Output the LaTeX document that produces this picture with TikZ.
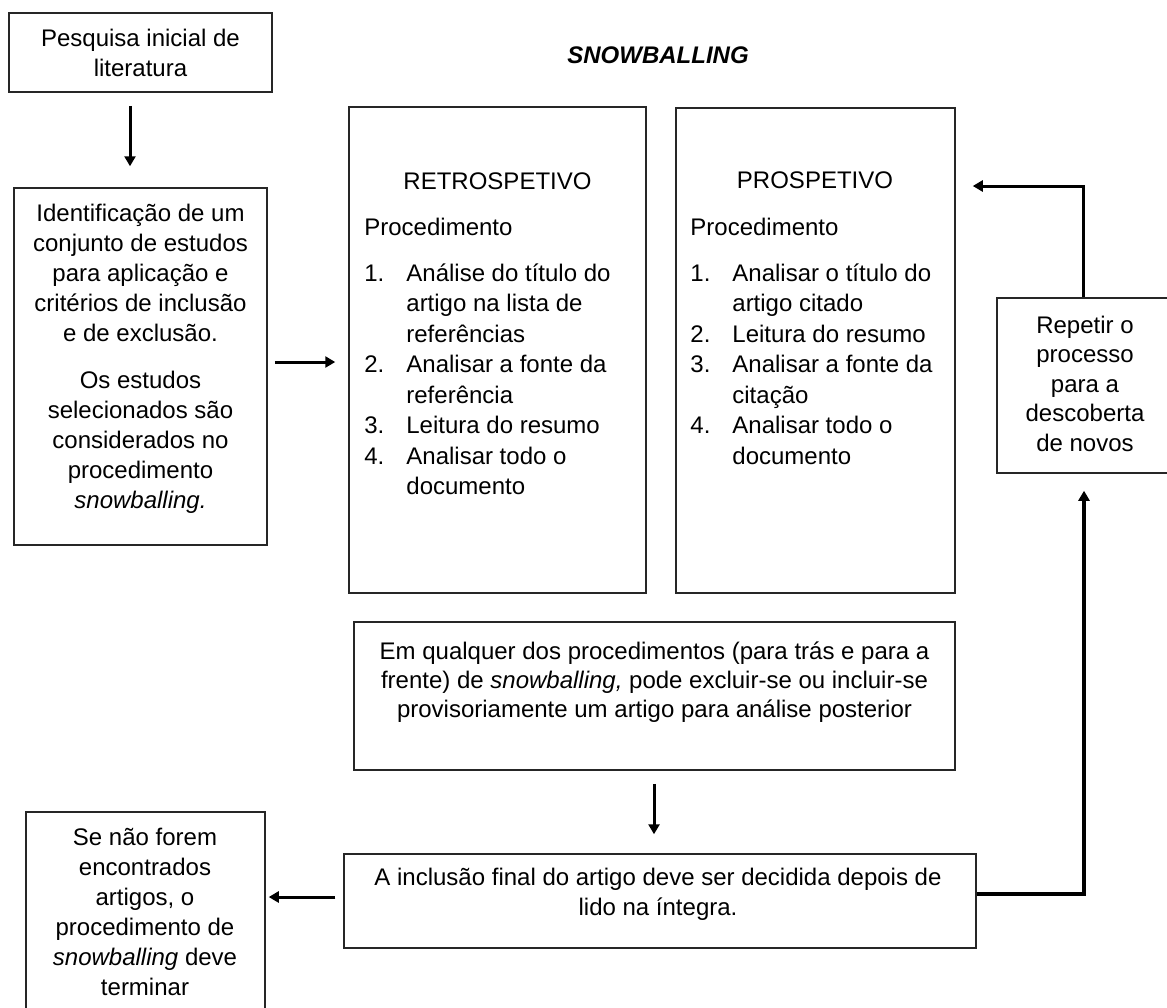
\documentclass[tikz,border=0pt]{standalone}
\usepackage{fontspec}
\setmainfont{Liberation Sans}
\usetikzlibrary{arrows.meta,fit,calc}
\newcommand{\listnum}[1]{\makebox[21pt][l]{#1}}
\newcommand{\listind}{\hspace*{21pt}}
\begin{document}
\begin{tikzpicture}[x=0.5pt,y=-0.5pt,
  boxst/.style={draw=black!85, line width=0.75pt, inner sep=0pt, rectangle},
  txt/.style={inner sep=0pt, font=\fontsize{12}{15}\selectfont},
  lst/.style={inner sep=0pt, align=left, anchor=north west, font=\fontsize{12}{15.25}\selectfont},
  arr/.style={line width=1.5pt, -{Triangle[length=5pt,width=5.5pt]}}
]
\useasboundingbox (0,0) rectangle (1167,1007);
\clip (0,0) rectangle (1167,1007);

% boxes
\node[boxst, fit={(9,13) (272,92)}] (b1) {};
\node[boxst, fit={(14,188) (267,545)}] (b2) {};
\node[boxst, fit={(349,107) (646,593)}] (retro) {};
\node[boxst, fit={(676,108) (955,593)}] (prosp) {};
\node[boxst, fit={(997,298) (1180,473)}] (rep) {};
\node[boxst, fit={(354,622) (955,770)}] (em) {};
\node[boxst, fit={(344,854) (976,948)}] (fin) {};
\node[boxst, fit={(26,812) (265,1020)}] (se) {};

% texts
\node[txt, align=center, anchor=north] (t1) at (140.5,25) {\strut Pesquisa inicial de\\literatura};
\node[txt, align=center, anchor=north] (t2) at (140.5,200) {\strut Identificação de um\\conjunto de estudos\\para aplicação e\\critérios de inclusão\\e de exclusão.\\[8.5pt]Os estudos\\selecionados são\\considerados no\\procedimento\\\textit{snowballing.}};
\node[txt, font=\fontsize{12}{15}\selectfont\bfseries\itshape] (title) at (658,55) {SNOWBALLING};

\node[txt] (rt) at (497.5,181) {RETROSPETIVO};
\node[lst] (rl) at (364,214) {\strut Procedimento\\[7.6pt]\listnum{1.}Análise do título do\\\listind artigo na lista de\\\listind referências\\\listnum{2.}Analisar a fonte da\\\listind referência\\\listnum{3.}Leitura do resumo\\\listnum{4.}Analisar todo o\\\listind documento};

\node[txt] (pt) at (815,180) {PROSPETIVO};
\node[lst] (pl) at (690,214) {\strut Procedimento\\[7.6pt]\listnum{1.}Analisar o título do\\\listind artigo citado\\\listnum{2.}Leitura do resumo\\\listnum{3.}Analisar a fonte da\\\listind citação\\\listnum{4.}Analisar todo o\\\listind documento};

\node[txt, align=center, anchor=north, font=\fontsize{12}{14.75}\selectfont] (t3) at (1085,312) {\strut Repetir o\\processo\\para a\\descoberta\\de novos};
\node[txt, align=center, anchor=north, font=\fontsize{12}{14.5}\selectfont] (t4) at (654.5,639) {\strut Em qualquer dos procedimentos (para trás e para a\\frente) de \textit{snowballing,} pode excluir-se ou incluir-se\\provisoriamente um artigo para análise posterior};
\node[txt, align=center, anchor=north] (t5) at (658,864) {\strut A inclusão final do artigo deve ser decidida depois de\\lido na íntegra.};
\node[txt, align=center, anchor=north] (t6) at (145,824) {\strut Se não forem\\encontrados\\artigos, o\\procedimento de\\\textit{snowballing} deve\\terminar};

% connectors
\coordinate (x1) at (130,0);
\draw[arr, shorten <=6.5pt, shorten >=10.5pt] (b1.south -| x1) -- (b2.north -| x1);
\coordinate (y2) at (0,362);
\draw[arr, shorten <=3.5pt, shorten >=6.5pt] (b2.east |- y2) -- (retro.west |- y2);
\coordinate (k3) at (1083,186);
\draw[arr, shorten >=8.5pt] (rep.north -| k3) -- (k3) -- (k3 -| prosp.east);
\coordinate (x4) at (654,0);
\draw[arr, shorten <=6.5pt, shorten >=9.5pt] (em.south -| x4) -- (fin.north -| x4);
\coordinate (y5) at (0,897);
\draw[arr, shorten <=4pt, shorten >=1.5pt] (fin.west |- y5) -- (se.east |- y5);
\coordinate (k6) at (1084,894);
\draw[arr, line width=2pt, shorten >=8.5pt] (fin.east |- k6) -- (k6) -- (k6 |- rep.south);
\end{tikzpicture}
\end{document}
